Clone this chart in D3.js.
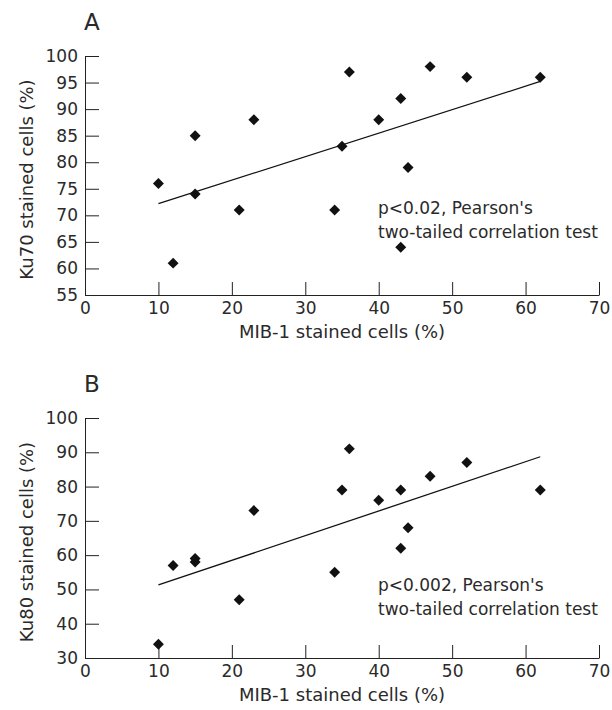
<!DOCTYPE html>
<meta charset="utf-8">
<style>
  body, html { margin:0; padding:0; background:#fff; }
  svg { display:block; }
  text { font-family: "DejaVu Sans", sans-serif; fill:#2a2a2a; }
  .axis path, .axis line { stroke:#222; stroke-width:1; }
  .axis text { font-size:17px; font-family: "DejaVu Sans", sans-serif; fill:#2a2a2a; }
</style>
<body>
<svg width="612" height="710"></svg>
<script src="https://d3js.org/d3.v7.min.js"></script>
<script>

// MIB-1 stained cells (%) - same patients in both panels
var mib1 = [10, 12, 15, 15, 21, 23, 34, 35, 36, 40, 43, 43, 44, 47, 52, 62];
// Ku70 stained cells (%)
var ku70 = [76, 61, 85, 74, 71, 88, 71, 83, 97, 88, 92, 64, 79, 98, 96, 96];
// Ku80 stained cells (%)
var ku80 = [34, 57, 59, 58, 47, 73, 55, 79, 91, 76, 79, 62, 68, 83, 87, 79];

// regression line end points [x, y]
var fitA = [[10, 72.2], [62, 95.2]];
var fitB = [[10, 51.3], [62, 88.7]];

var xTicks = [0, 10, 20, 30, 40, 50, 60, 70];
var yTicksA = [55, 60, 65, 70, 75, 80, 85, 90, 95, 100];
var yTicksB = [30, 40, 50, 60, 70, 80, 90, 100];

var svg = d3.select("svg");

var panels = [
  {letter: "A", ys: ku70, fit: fitA, yDomain: [55, 100], yTicks: yTicksA, top: 56, bottom: 295,
   ylab: "Ku70 stained cells (%)", note: ["p<0.02, Pearson's", "two-tailed correlation test"], noteY: 208},
  {letter: "B", ys: ku80, fit: fitB, yDomain: [30, 100], yTicks: yTicksB, top: 418, bottom: 658,
   ylab: "Ku80 stained cells (%)", note: ["p<0.002, Pearson's", "two-tailed correlation test"], noteY: 585}
];

var left = 85, right = 599;

panels.forEach(function(p) {
  var x = d3.scaleLinear().domain([0, 70]).range([left, right]);
  var y = d3.scaleLinear().domain(p.yDomain).range([p.bottom, p.top]);

  var g = svg.append("g");

  g.append("g")
    .attr("class", "axis")
    .attr("transform", "translate(0," + p.bottom + ")")
    .call(d3.axisBottom(x).tickValues(xTicks).tickSizeInner(-13).tickSizeOuter(0).tickPadding(7));

  g.append("g")
    .attr("class", "axis")
    .attr("transform", "translate(" + left + ",0)")
    .call(d3.axisLeft(y).tickValues(p.yTicks).tickSizeInner(-14).tickSizeOuter(0).tickPadding(7));

  g.selectAll(".axis .tick text").attr("fill", "#2a2a2a");

  // fit line
  g.append("line")
    .attr("x1", x(p.fit[0][0])).attr("y1", y(p.fit[0][1]))
    .attr("x2", x(p.fit[1][0])).attr("y2", y(p.fit[1][1]))
    .attr("stroke", "#111").attr("stroke-width", 1.3);

  // diamonds
  var sym = d3.symbol().type(d3.symbolSquare).size(60);
  g.selectAll(".pt")
    .data(mib1.map(function(d, i) { return [d, p.ys[i]]; }))
    .enter().append("path")
    .attr("class", "pt")
    .attr("d", sym)
    .attr("fill", "#111")
    .attr("transform", function(d) {
      return "translate(" + x(d[0]) + "," + y(d[1]) + ") rotate(45)";
    });

  // panel letter
  g.append("text")
    .attr("x", left - 1)
    .attr("y", p.top - 26)
    .style("font-size", "23px")
    .text(p.letter);

  // axis titles
  g.append("text")
    .attr("x", (left + right) / 2)
    .attr("y", p.bottom + 43)
    .attr("text-anchor", "middle")
    .style("font-size", "18px")
    .text("MIB-1 stained cells (%)");

  g.append("text")
    .attr("transform", "translate(33," + ((p.top + p.bottom) / 2 + 4) + ") rotate(-90)")
    .attr("text-anchor", "middle")
    .style("font-size", "18px")
    .text(p.ylab);

  // annotation
  g.append("text")
    .attr("x", 378)
    .attr("y", p.noteY)
    .style("font-size", "17px")
    .selectAll("tspan")
    .data(p.note)
    .enter().append("tspan")
    .attr("x", 378)
    .attr("dy", function(d, i) { return i === 0 ? "0.35em" : "24px"; })
    .text(function(d) { return d; });
});

</script>
</body>
